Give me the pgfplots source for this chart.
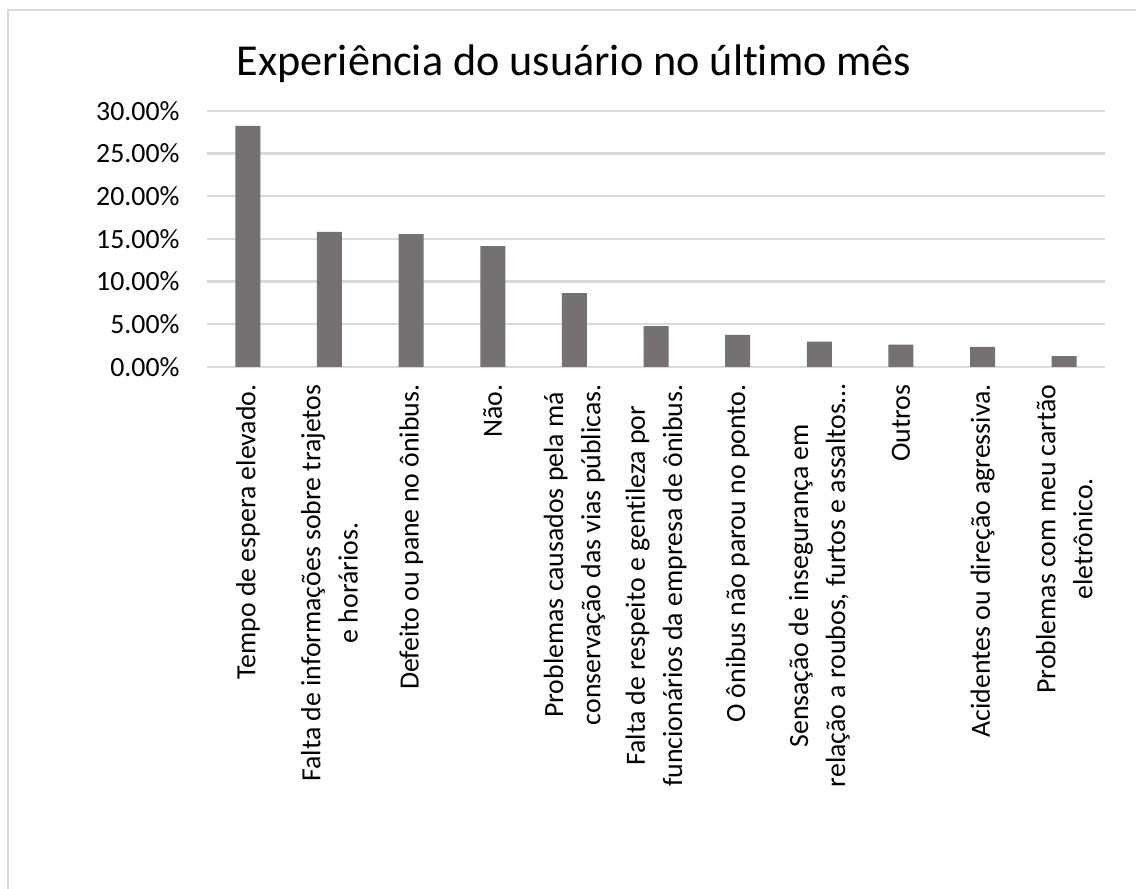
\documentclass[border=0pt]{standalone}
\usepackage{pgfplots}
\pgfplotsset{compat=1.18}
\usepackage{fontspec}
\setmainfont[Ligatures={NoCommon}]{Carlito}
\definecolor{bargray}{HTML}{767171}
\definecolor{gridgray}{HTML}{D9D9D9}
\begin{document}
\begin{tikzpicture}
\useasboundingbox (0,0) rectangle (367.6pt,287.4pt);
\fill[white] (0,0) rectangle (367.6pt,287.4pt);
\draw[gridgray, line width=0.7pt] (2.59pt,-5pt) -- (2.59pt,284.1pt) -- (375pt,284.1pt);
\node[anchor=base, inner sep=0pt, font=\fontsize{14.3}{17}\selectfont] at (185.75pt,263.1pt) {Experiência do usuário no último mês};
\begin{axis}[
  at={(66.99pt,168.69pt)}, anchor=south west,
  scale only axis, width=290.6pt, height=82.84pt,
  ybar, bar width=8.09pt,
  xmin=-0.5, xmax=10.5, ymin=0, ymax=30,
  ytick={0,5,10,15,20,25,30},
  yticklabels={0.00\%,5.00\%,10.00\%,15.00\%,20.00\%,25.00\%,30.00\%},
  xtick={0,1,2,3,4,5,6,7,8,9,10},
  xticklabels={
    {Tempo de espera elevado.},
    {Falta de informações sobre trajetos\\e horários.},
    {Defeito ou pane no ônibus.},
    {Não.},
    {Problemas causados pela má\\conservação das vias públicas.},
    {Falta de respeito e gentileza por\\funcionários da empresa de ônibus.},
    {O ônibus não parou no ponto.},
    {Sensação de insegurança em\\relação a roubos, furtos e assaltos\dots},
    {Outros},
    {Acidentes ou direção agressiva.},
    {Problemas com meu cartão\\eletrônico.}
  },
  ymajorgrids,
  major grid style={draw=gridgray, line width=0.7pt},
  axis line style={draw=none},
  major tick length=0pt,
  yticklabel style={font=\fontsize{9}{11}\selectfont, anchor=east, inner sep=0pt, xshift=-8.7pt},
  xticklabel style={font=\fontsize{9}{12}\selectfont, yshift=-5.5pt, rotate=90, anchor=east, align=center, inner sep=0pt},
]
\addplot[fill=bargray, draw=none] coordinates {
  (0,28.24) (1,15.82) (2,15.55) (3,14.14) (4,8.63) (5,4.77)
  (6,3.75) (7,2.97) (8,2.62) (9,2.34) (10,1.25)
};
\end{axis}
\end{tikzpicture}
\end{document}
